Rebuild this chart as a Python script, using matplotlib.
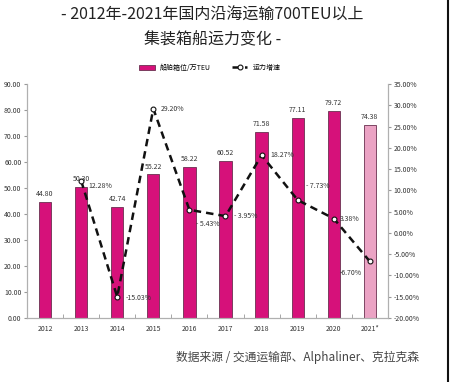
import matplotlib.pyplot as plt
import numpy as np

plt.rcParams['font.family'] = ['Noto Sans CJK SC', 'DejaVu Sans']

years = ['2012', '2013', '2014', '2015', '2016', '2017', '2018', '2019', '2020', '2021*']
capacity = [44.80, 50.30, 42.74, 55.22, 58.22, 60.52, 71.58, 77.11, 79.72, 74.38]
growth = [12.28, -15.03, 29.20, 5.43, 3.95, 18.27, 7.73, 3.38, -6.70]  # 2013-2021
growth_labels = ['12.28%', '-15.03%', '29.20%', '- 5.43%', '- 3.95%', '18.27%', '- 7.73%', '3.38%', '-6.70%']
label_offsets = [(5, -4), (6, -1), (5, 0), (5, -10), (6, 0), (6, 0), (6, 10), (4, 0), (-22, -8)]

fig = plt.figure(figsize=(4.5, 3.82), dpi=100)
ax = fig.add_axes([0.06, 0.1675, 0.802, 0.6125])
ax2 = ax.twinx()

x = np.arange(len(years))
colors = ['#d6117a'] * 9 + ['#eba3c4']
bars = ax.bar(x, capacity, width=0.34, color=colors, edgecolor='#6a3050', linewidth=0.6,
              label='船舶箱位/万TEU')
for xi, v in zip(x, capacity):
    ax.text(xi, v + 1.5, f'{v:.2f}', ha='center', va='bottom', fontsize=5, color='#333333')

ax.set_ylim(0, 90)
ax.set_yticks(np.arange(0, 91, 10))
ax.set_yticklabels([f'{v:.2f}' for v in np.arange(0, 91, 10)], fontsize=5, color='#333333')
ax.set_xlim(-0.5, len(years) - 0.5)
ax.set_xticks(x)
ax.set_xticklabels(years, fontsize=5, color='#333333')
ax.set_xticks(x[:-1] + 0.5, minor=True)
ax.tick_params(axis='x', which='major', length=0, pad=5)
ax.tick_params(axis='x', which='minor', length=3, color='#999999', direction='in')
ax.tick_params(axis='y', length=2, color='#999999', pad=2)

gx = x[1:]
line, = ax2.plot(gx, growth, color='#111111', linestyle=(0, (3, 2)), linewidth=1.8,
                 marker='o', markersize=3.5, markerfacecolor='white', markeredgecolor='#111111',
                 markeredgewidth=0.8, label='运力增速')
for xi, g, lab, off in zip(gx, growth, growth_labels, label_offsets):
    ax2.annotate(lab, (xi, g), xytext=off, textcoords='offset points',
                 fontsize=5, color='#333333', va='center', ha='left')

ax2.set_ylim(-20, 35)
ax2.set_yticks(np.arange(-20, 36, 5))
ax2.set_yticklabels([f'{v:.2f}%' for v in np.arange(-20, 36, 5)], fontsize=5, color='#333333')
ax2.tick_params(axis='y', length=2, color='#999999', pad=2)

for a in (ax, ax2):
    a.spines['top'].set_visible(False)
    for s in ('left', 'right', 'bottom'):
        a.spines[s].set_color('#b0b0b0')
        a.spines[s].set_linewidth(0.8)

fig.legend(handles=[bars, line], loc='center', bbox_to_anchor=(0.467, 0.823), ncol=2,
           fontsize=5, frameon=False, handlelength=2.2, columnspacing=3)

fig.text(0.472, 0.96, '- 2012年-2021年国内沿海运输700TEU以上', ha='center', va='center',
         fontsize=11.5, color='#222222')
fig.text(0.472, 0.897, '集装箱船运力变化 -', ha='center', va='center', fontsize=11.5, color='#222222')
fig.text(0.93, 0.063, '数据来源 / 交通运输部、Alphaliner、克拉克森', ha='right', va='center',
         fontsize=8.5, color='#444444')
fig.add_artist(plt.Line2D([0.995, 0.995], [0, 1], color='#111111', linewidth=1.5))

fig.savefig('out.png', dpi=100)
